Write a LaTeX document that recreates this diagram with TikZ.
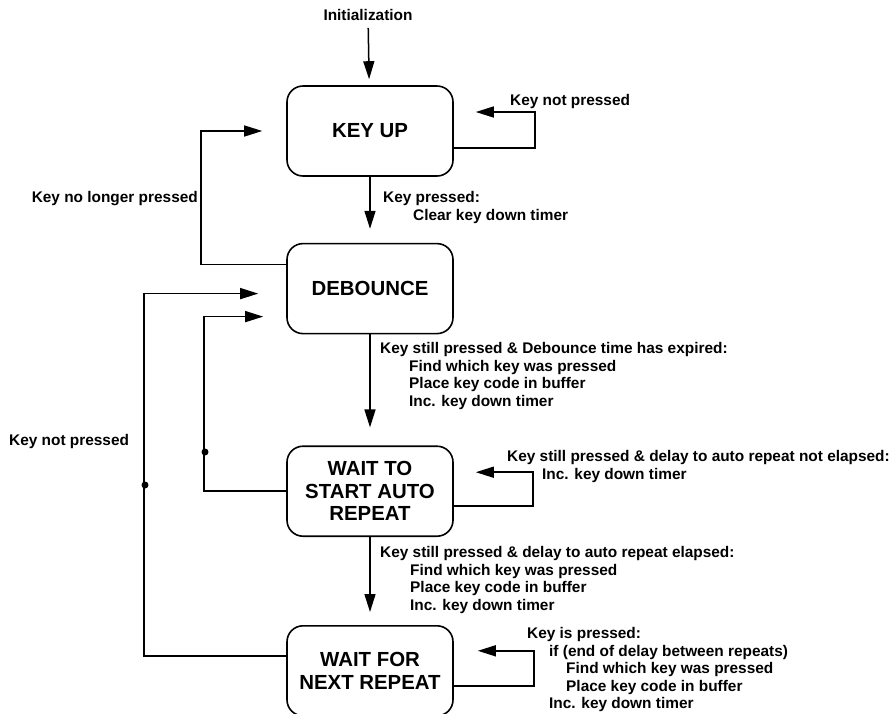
\documentclass[tikz,border=0pt]{standalone}
\usepackage{fontspec}
\setmainfont{Liberation Sans}
\usetikzlibrary{arrows.meta,positioning}
\tikzset{
  >={Triangle[length=18pt,width=11pt]},
  state/.style={draw, rounded corners=16pt, line width=1.6pt, minimum width=166pt, minimum height=90pt, align=center, font=\fontsize{20.4}{22.5}\selectfont\bfseries},
  lbl/.style={inner sep=0pt, align=left, font=\fontsize{15.4}{17.5}\selectfont\bfseries},
  link/.style={->, line width=1.5pt},
  junct/.style={circle, fill, inner sep=0pt, minimum size=7pt},
}

\begin{document}
\begin{tikzpicture}[x=1pt, y=-1pt]
  \useasboundingbox (0,0) rectangle (893,713);
  \node[lbl] (init) at (368,15) {Initialization};
  \node[state] (keyup) at (370,131) {KEY UP};
  \node[state, below=66pt of keyup] (debounce) {DEBOUNCE};
  \node[state, below=111pt of debounce] (waitstart) {WAIT TO\\START AUTO\\REPEAT};
  \node[state, below=88pt of waitstart] (waitnext) {WAIT FOR\\NEXT REPEAT};
  % transition labels
  \node[lbl, anchor=north west] (kupnote) at (510,94.5) {Key not pressed};
  \node[lbl, anchor=north west] (kpress) at (383,191.5) {Key pressed:\\\hspace*{30pt}Clear key down timer};
  \node[lbl, anchor=north east] (nolonger) at (198,191.5) {Key no longer pressed};
  \node[lbl, anchor=north west] (debnote) at (380,342.5) {Key still pressed \& Debounce time has expired:\\\hspace*{29pt}Find which key was pressed\\\hspace*{29pt}Place key code in buffer\\\hspace*{29pt}Inc. key down timer};
  \node[lbl, anchor=north west] (notpressed) at (9,434.5) {Key not pressed};
  \node[lbl, anchor=north west] (startnote) at (507,450.5) {Key still pressed \& delay to auto repeat not elapsed:\\\hspace*{35pt}Inc. key down timer};
  \node[lbl, anchor=north west] (elapsed) at (380,546.5) {Key still pressed \& delay to auto repeat elapsed:\\\hspace*{30pt}Find which key was pressed\\\hspace*{30pt}Place key code in buffer\\\hspace*{30pt}Inc. key down timer};
  \node[lbl, anchor=north west] (nextnote) at (527,627.5) {Key is pressed:\\\hspace*{22pt}if (end of delay between repeats)\\\hspace*{39pt}Find which key was pressed\\\hspace*{39pt}Place key code in buffer\\\hspace*{22pt}Inc. key down timer};
  % main flow
  \draw[link, shorten <=7pt, shorten >=6pt] (init) -- (keyup);
  \draw[link, shorten >=14pt] (keyup) -- (debounce);
  \draw[link, shorten >=18pt] (debounce) -- (waitstart);
  \draw[link, shorten >=13pt] (waitstart) -- (waitnext);
  % self loops
  \draw[link] ([yshift=-17pt]keyup.east) -- ++(81pt,0) |- ([xshift=22pt,yshift=19pt]keyup.east);
  \draw[link] ([yshift=-15pt]waitstart.east) -- ++(79pt,0) |- ([xshift=22pt,yshift=19pt]waitstart.east);
  \draw[link] ([yshift=-15pt]waitnext.east) -- ++(80pt,0) |- ([xshift=24pt,yshift=20pt]waitnext.east);
  % back edges
  \draw[link] ([yshift=24pt]debounce.west) -- ++(-85pt,0) |- ([xshift=-24pt]keyup.west);
  \draw[link] (waitstart.west) -- ++(-82pt,0) |- ([xshift=-23pt,yshift=-28pt]debounce.west);
  \draw[link] ([yshift=15pt]waitnext.west) -- ++(-142pt,0) |- ([xshift=-28pt,yshift=-5pt]debounce.west);
  \node[junct] (j1) at (205,452) {};
  \node[junct] (j2) at (145,485) {};
\end{tikzpicture}
\end{document}
